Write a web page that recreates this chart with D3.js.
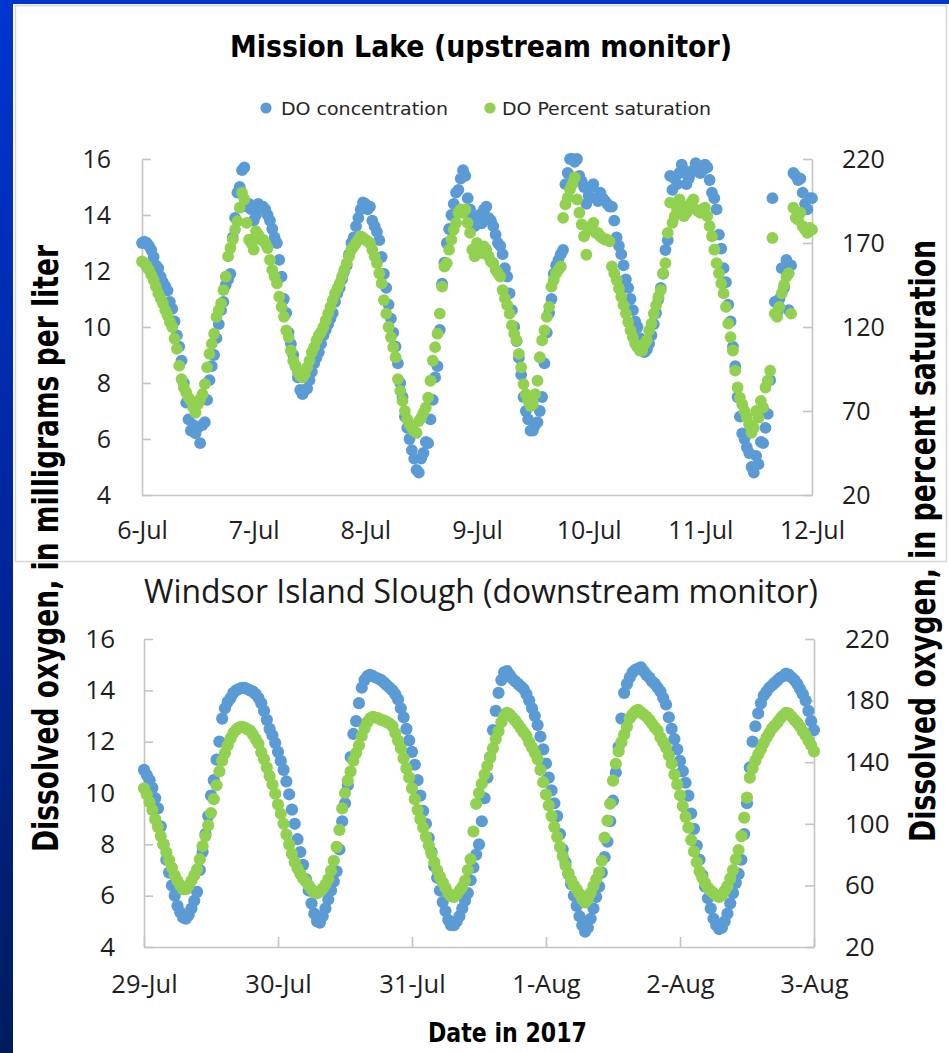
<!DOCTYPE html>
<html>
<head>
<meta charset="utf-8">
<script src="https://cdn.jsdelivr.net/npm/d3@7"></script>
<style>
  html, body { margin: 0; padding: 0; background: #fff; }
  svg { display: block; }
</style>
</head>
<body>
<svg id="chart" width="949" height="1053"></svg>
<script>
// ---- Sampling ----
const sampleMinutes = 30;
const missionStart = "2017-07-06 00:00";
const windsorStart = "2017-07-29 00:00";

// ---- Tick labels ----
const missionDays = ["6-Jul", "7-Jul", "8-Jul", "9-Jul", "10-Jul", "11-Jul", "12-Jul"];
const windsorDays = ["29-Jul", "30-Jul", "31-Jul", "1-Aug", "2-Aug", "3-Aug"];
const concTicks = [4, 6, 8, 10, 12, 14, 16];
const missionSatTicks = [20, 70, 120, 170, 220];
const windsorSatTicks = [20, 60, 100, 140, 180, 220];

// ---- Series names ----
const seriesNames = ["DO concentration", "DO Percent saturation"];

// ---- Mission Lake, DO concentration (mg/L), every 30 minutes from 6-Jul 00:00 ----
const missionConc = [
  13.0, 13.05, 13.0, 12.9, 12.75, 12.5, 12.2, 12.1, 11.8, 11.6, 11.45, 11.3,
  10.9, 10.65, 10.2, 9.7, 9.3, 8.8, 8.0, 7.3, 6.7, 6.3, 6.5, 6.2,
  6.4, 5.85, 6.5, 6.6, 7.4, 8.1, 8.6, 9.0, 9.6, 10.1, 10.6, 10.9,
  11.5, 11.7, 11.9, 13.2, 13.9, 14.8, 15.0, 15.6, 15.7, 14.3, 14.4, 14.2,
  13.8, 14.0, 14.4, 14.3, 14.3, 14.2, 14.0, 13.8, 13.5, 13.2, 13.0, 12.4,
  11.8, 11.0, 10.5, 9.8, 9.4, 9.0, 8.6, 8.2, 7.75, 7.6, 7.75, 7.8,
  8.1, 8.4, 8.7, 8.9, 9.1, 9.4, 9.7, 9.9, 10.1, 10.3, 10.5, 10.9,
  11.2, 11.4, 11.7, 12.0, 12.2, 12.6, 13.0, 13.2, 13.6, 13.9, 14.2, 14.45,
  14.4, 14.2, 14.3, 13.8, 13.6, 13.4, 13.1, 12.5, 11.9, 11.4, 10.8, 10.3,
  9.8, 9.3, 8.7, 8.0, 7.5, 6.8, 6.4, 6.0, 5.6, 5.3, 4.9, 4.8,
  5.3, 5.5, 5.9, 5.85, 6.7, 7.4, 8.2, 8.6, 9.9, 11.55, 12.3, 13.0,
  13.5, 14.0, 14.4, 14.8, 14.9, 15.3, 15.6, 15.4, 14.6, 14.2, 13.9, 13.6,
  13.7, 14.0, 13.7, 14.2, 14.3, 13.9, 13.8, 13.6, 13.3, 13.0, 12.9, 12.6,
  12.1, 11.8, 11.2, 10.6, 10.0, 9.5, 8.9, 8.3, 7.5, 7.0, 6.7, 6.3,
  6.3, 6.5, 6.6, 7.0, 7.5, 8.7, 9.8, 10.5, 11.0, 11.9, 12.2, 12.4,
  12.6, 12.75, 15.1, 15.5, 16.0, 16.0, 15.9, 16.0, 15.4, 15.2, 15.0, 14.4,
  14.7, 15.0, 15.1, 14.6, 14.5, 14.8, 14.6, 14.5, 14.4, 14.3, 14.3, 13.8,
  13.2, 12.9, 12.6, 12.2, 11.7, 11.4, 11.0, 10.6, 10.2, 10.0, 9.6, 9.2,
  9.1, 9.2, 9.4, 9.7, 10.1, 10.5, 11.0, 11.4, 11.9, 12.75, 13.1, 15.4,
  14.9, 15.3, 15.1, 15.5, 15.8, 15.6, 15.1, 15.3, 15.5, 15.6, 15.85, 15.7,
  15.5, 15.6, 15.8, 15.7, 15.25, 14.8, 14.6, 14.2, 13.3, 12.8, 12.1, 11.6,
  10.8, 10.2, 9.3, 8.6, 7.5, 6.8, 6.2, 6.0, 5.7, 5.5, 5.0, 4.8,
  5.4, 5.1, 5.9, 5.85, 6.4, 6.9, 8.1, 14.6, 10.9, 10.5, 11.0, 12.1,
  11.4, 12.4, 10.6, 12.2, 15.5, 15.4, 15.25, 15.3, 14.8, 14.4, 14.2, 14.6,
  14.6
];

// ---- Mission Lake, DO percent saturation, every 30 minutes from 6-Jul 00:00 ----
const missionSat = [
  159, 158, 156, 154, 151, 148, 144, 140, 137, 134, 130, 127,
  123, 120, 113, 107, 97, 89, 84, 81, 78, 76, 72, 69,
  74, 77, 80, 86, 96, 104, 110, 116, 126, 130, 134, 142,
  150, 162, 167, 172, 178, 183, 191, 200, 196, 182, 172, 170,
  166, 177, 175, 172, 172, 170, 167, 160, 154, 150, 146, 138,
  132, 126, 118, 114, 106, 100, 97, 93, 91, 90, 92, 96,
  100, 105, 108, 112, 115, 117, 120, 124, 128, 132, 136, 140,
  143, 146, 150, 154, 158, 162, 166, 168, 170, 172, 174, 173,
  172, 171, 170, 166, 162, 158, 152, 146, 136, 128, 120, 114,
  108, 102, 89, 82, 76, 70, 65, 62, 60, 58, 57, 64,
  66, 69, 72, 78, 88, 100, 108, 116, 128, 144, 156, 158,
  166, 172, 178, 182, 188, 190, 188, 190, 182, 176, 166, 162,
  170, 166, 164, 168, 166, 162, 159, 158, 154, 152, 150, 142,
  137, 133, 128, 121, 116, 112, 104, 96, 86, 80, 76, 73,
  74, 80, 88, 102, 112, 118, 126, 132, 144, 148, 152, 154,
  156, 185, 193, 197, 202, 205, 209, 196, 188, 181, 174, 163,
  178, 180, 182, 176, 176, 174, 173, 172, 172, 171, 156, 152,
  148, 143, 138, 133, 128, 123, 118, 114, 110, 108, 106, 106,
  110, 112, 118, 122, 128, 133, 138, 142, 152, 158, 176, 194,
  182, 186, 190, 196, 192, 186, 188, 192, 194, 196, 190, 189,
  188, 190, 191, 186, 180, 174, 166, 158, 152, 146, 140, 132,
  122, 114, 106, 94, 84, 78, 74, 70, 66, 62, 57, 60,
  70, 66, 76, 72, 84, 88, 94, 173, 128, 126, 132, 140,
  145, 150, 152, 128, 191, 185, 184, 188, 180, 178, 176, 179,
  178
];

// ---- Windsor Island Slough, DO concentration (mg/L), every 30 minutes from 29-Jul 00:00 ----
const windsorConc = [
  10.9, 10.7, 10.5, 10.2, 9.8, 9.4, 8.7, 8.0, 7.4, 6.9, 6.4, 6.0,
  5.6, 5.35, 5.15, 5.1, 5.25, 5.5, 5.8, 6.15, 7.0, 7.7, 8.4, 9.1,
  9.9, 10.5, 11.3, 12.0, 12.9, 13.3, 13.55, 13.7, 13.9, 14.0, 14.05, 14.1,
  14.1, 14.05, 14.0, 13.95, 13.85, 13.7, 13.5, 13.2, 12.85, 12.5, 12.25, 11.95,
  11.6, 11.25, 10.9, 10.45, 9.95, 9.35, 8.8, 8.2, 7.7, 7.2, 6.65, 6.2,
  5.7, 5.3, 5.0, 4.95, 5.2, 5.5, 5.85, 6.2, 6.55, 6.95, 7.8, 8.9,
  9.6, 10.3, 11.4, 12.3, 12.8, 13.5, 14.1, 14.4, 14.55, 14.6, 14.55, 14.5,
  14.45, 14.4, 14.3, 14.2, 14.1, 14.0, 13.85, 13.65, 13.3, 12.95, 12.5, 12.05,
  11.6, 11.1, 10.5, 9.9, 9.3, 8.8, 8.25, 7.7, 7.15, 6.7, 6.2, 5.75,
  5.4, 5.05, 4.85, 4.85, 5.0, 5.2, 5.5, 5.8, 6.1, 6.6, 7.1, 7.6,
  8.0, 8.9, 9.8, 10.6, 11.4, 12.45, 13.2, 13.9, 14.4, 14.7, 14.75, 14.6,
  14.45, 14.35, 14.25, 14.15, 14.05, 13.85, 13.6, 13.3, 13.0, 12.65, 12.2, 11.7,
  11.15, 10.6, 10.1, 9.6, 9.1, 8.4, 7.8, 7.3, 6.85, 6.45, 6.0, 5.6,
  5.2, 4.85, 4.6, 4.75, 5.1, 5.5, 5.95, 6.35, 6.9, 7.5, 8.1, 8.9,
  9.7, 10.8, 11.8, 12.9, 13.9, 14.25, 14.5, 14.7, 14.8, 14.85, 14.9, 14.75,
  14.6, 14.5, 14.35, 14.25, 14.1, 13.95, 13.7, 13.45, 12.95, 12.5, 12.1, 11.7,
  11.25, 10.85, 10.4, 9.9, 9.2, 8.6, 7.95, 7.4, 6.8, 6.35, 5.9, 5.5,
  5.1, 4.85, 4.7, 4.75, 5.0, 5.3, 5.7, 6.1, 6.5, 6.85, 7.4, 8.4,
  9.6, 11.0, 12.0, 12.6, 13.1, 13.5, 13.8, 13.95, 14.1, 14.2, 14.3, 14.4,
  14.5, 14.55, 14.65, 14.6, 14.5, 14.4, 14.25, 14.05, 13.85, 13.6, 13.2, 12.8,
  12.45
];

// ---- Windsor Island Slough, DO percent saturation, every 30 minutes from 29-Jul 00:00 ----
const windsorSat = [
  123, 119, 114, 109, 103, 98, 92, 86.5, 81.5, 76.5, 71.5, 66.5,
  63, 60, 57.5, 57.5, 60, 63, 66.5, 70.5, 77, 85.5, 92, 99,
  107, 116, 125, 134, 141, 146, 151, 155.5, 159, 161, 162.5, 163,
  162.5, 161.5, 160.5, 158, 155, 152, 146.5, 142, 136.5, 131, 125.5, 119.5,
  112.5, 106.5, 100, 93, 86.5, 80.5, 75, 71, 67.5, 64.5, 62.5, 60,
  57.5, 55.5, 55, 56, 58, 60.5, 64, 69.5, 76, 85, 96, 110,
  120, 128, 134, 141, 146, 151, 157, 162, 166, 168.5, 169.5, 169,
  168.5, 167.5, 167, 166, 165, 163.5, 159, 154, 149, 142.5, 136, 130,
  123, 116, 109, 103, 97.5, 91.5, 86, 80.5, 75, 70, 65.5, 62,
  58.5, 55, 53, 52.5, 54, 56.5, 59, 63, 70, 77, 95, 113,
  120, 126, 132, 137.5, 143, 149, 155, 160, 166, 170, 172, 171,
  169, 167, 164.5, 162, 159.5, 157, 153, 149.5, 146, 142, 135, 127,
  119, 112, 105, 98, 91.5, 85, 79, 73, 68, 63.5, 60, 57.5,
  54.5, 51, 49, 51, 55, 59.5, 64, 68.5, 76, 91, 102, 113,
  128, 139, 147, 153, 158, 163, 168.5, 171, 173, 174, 172.5, 171,
  169.5, 167.5, 165, 162.5, 160.5, 156, 153, 149.5, 144.5, 139, 132, 125.5,
  118.5, 111.5, 104.5, 97.5, 89.5, 82, 75, 69, 65, 61.5, 58.5, 56.5,
  55, 53.5, 52.5, 53.5, 56.5, 59.5, 64.5, 70, 77, 83, 92, 104,
  117, 130, 136, 141, 145, 148.5, 152.5, 156, 159, 162, 164, 166,
  168.5, 170.5, 172, 171.5, 169.5, 167.5, 165.5, 163, 160, 157.5, 154, 151,
  147
];

// ---------------------------------------------------------------------------
const W = 949, H = 1053;
const blue = "#5b9bd5", green = "#92d050";
const axisGrey = "#c4c4c4", labelInk = "#1e1e1e";
const narrowFont = "'Liberation Sans Narrow', 'Arial Narrow', 'DejaVu Sans Condensed', 'Liberation Sans', sans-serif";
const tickFont = "'Open Sans', 'Noto Sans', 'DejaVu Sans', sans-serif";

const parseStamp = d3.timeParse("%Y-%m-%d %H:%M");
const parseDay = d3.timeParse("%d-%b-%Y");

const svg = d3.select("#chart");

// Slide background: blue gradient frame with a white sheet on top
const defs = svg.append("defs");
const bg = defs.append("linearGradient").attr("id", "slideBg")
  .attr("x1", 0).attr("y1", 0).attr("x2", 0).attr("y2", 1);
bg.append("stop").attr("offset", "0%").attr("stop-color", "#0035d0");
bg.append("stop").attr("offset", "55%").attr("stop-color", "#00259a");
bg.append("stop").attr("offset", "100%").attr("stop-color", "#001b5c");

svg.append("rect").attr("width", W).attr("height", H).attr("fill", "url(#slideBg)");
svg.append("rect").attr("x", 13).attr("y", 4).attr("width", W - 13).attr("height", H - 4).attr("fill", "#fff");
// frame around the upper chart
svg.append("rect").attr("x", 15.5).attr("y", 5.5).attr("width", 931).attr("height", 556)
  .attr("fill", "none").attr("stroke", "#d6d6d6").attr("stroke-width", 1.5);

function drawPanel(cfg) {
  const g = svg.append("g");
  const start = parseStamp(cfg.start);
  const times = cfg.conc.map((_, i) => d3.timeMinute.offset(start, i * sampleMinutes));
  const dayDates = cfg.days.map(d => parseDay(d + "-2017"));

  const x = d3.scaleTime().domain([dayDates[0], dayDates[dayDates.length - 1]]).range([cfg.left, cfg.right]);
  const yL = d3.scaleLinear().domain([4, 16]).range([cfg.bottom, cfg.top]);
  const yR = d3.scaleLinear().domain([20, 220]).range([cfg.bottom, cfg.top]);

  const styleAxis = (sel, size) => {
    sel.attr("color", axisGrey).attr("font-family", tickFont).attr("font-size", size);
    sel.select(".domain").attr("stroke-width", 1.6);
    sel.selectAll(".tick line").attr("stroke-width", 1.6);
    sel.selectAll("text").attr("fill", labelInk);
  };

  g.append("g").attr("transform", `translate(${cfg.left},0)`)
    .call(d3.axisLeft(yL).tickValues(concTicks).tickSizeInner(-9).tickSizeOuter(0).tickPadding(cfg.leftPad))
    .call(s => styleAxis(s, cfg.yFont));

  g.append("g").attr("transform", `translate(${cfg.right},0)`)
    .call(d3.axisRight(yR).tickValues(cfg.satTicks).tickSizeInner(-9).tickSizeOuter(0).tickPadding(cfg.rightPad))
    .call(s => styleAxis(s, cfg.yFont));

  g.append("g").attr("transform", `translate(0,${cfg.bottom})`)
    .call(d3.axisBottom(x).tickValues(dayDates).tickFormat((d, i) => cfg.days[i])
      .tickSizeInner(cfg.xTick).tickSizeOuter(0).tickPadding(cfg.xPad))
    .call(s => styleAxis(s, cfg.xFont));

  // concentration first, saturation drawn over it
  g.append("g").selectAll("circle").data(cfg.conc).join("circle")
    .attr("cx", (d, i) => x(times[i])).attr("cy", d => yL(d)).attr("r", cfg.dotR).attr("fill", blue);
  g.append("g").selectAll("circle").data(cfg.sat).join("circle")
    .attr("cx", (d, i) => x(times[i])).attr("cy", d => yR(d)).attr("r", cfg.dotR).attr("fill", green);
}

drawPanel({
  start: missionStart, days: missionDays, conc: missionConc, sat: missionSat, satTicks: missionSatTicks,
  left: 142, right: 812, top: 159, bottom: 495, dotR: 5.9,
  leftPad: 31, rightPad: 30, xTick: 0, xPad: 26, yFont: 25, xFont: 25
});

drawPanel({
  start: windsorStart, days: windsorDays, conc: windsorConc, sat: windsorSat, satTicks: windsorSatTicks,
  left: 144, right: 814, top: 639, bottom: 947, dotR: 6.1,
  leftPad: 29, rightPad: 31, xTick: -10, xPad: 28, yFont: 26, xFont: 25.5
});

// Titles, legend and axis titles
function label(txt, opts) {
  const t = svg.append("text").text(txt)
    .attr("font-family", opts.font).attr("font-size", opts.size)
    .attr("font-weight", opts.weight || "normal")
    .attr("fill", opts.fill || "#000")
    .attr("text-anchor", opts.anchor || "middle");
  if (opts.rotate) {
    t.attr("transform", `translate(${opts.x},${opts.y}) rotate(-90)`);
  } else {
    t.attr("x", opts.x).attr("y", opts.y);
  }
  if (opts.len) t.attr("textLength", opts.len).attr("lengthAdjust", "spacingAndGlyphs");
  return t;
}

label("Mission Lake (upstream monitor)", { x: 481, y: 57, size: 31, weight: "bold", font: narrowFont, len: 502 });

const legendItems = [
  { name: seriesNames[0], color: blue, cx: 266, tx: 281, len: 167 },
  { name: seriesNames[1], color: green, cx: 490, tx: 502, len: 209 }
];
legendItems.forEach(it => {
  svg.append("circle").attr("cx", it.cx).attr("cy", 108).attr("r", 5.6).attr("fill", it.color);
  label(it.name, { x: it.tx, y: 114.5, size: 18.5, font: narrowFont, anchor: "start", len: it.len, fill: "#262626" });
});

label("Windsor Island Slough (downstream monitor)", { x: 481, y: 603, size: 33, font: tickFont, len: 674, fill: "#1a1a1a" });
label("Date in 2017", { x: 507.5, y: 1042, size: 26, weight: "bold", font: narrowFont, len: 159 });
label("Dissolved oxygen, in milligrams per liter", { x: 58, y: 548.5, rotate: true, size: 35, weight: "bold", font: narrowFont, len: 607 });
label("Dissolved oxygen, in percent saturation", { x: 935, y: 541, rotate: true, size: 35, weight: "bold", font: narrowFont, len: 602 });
</script>
</body>
</html>
